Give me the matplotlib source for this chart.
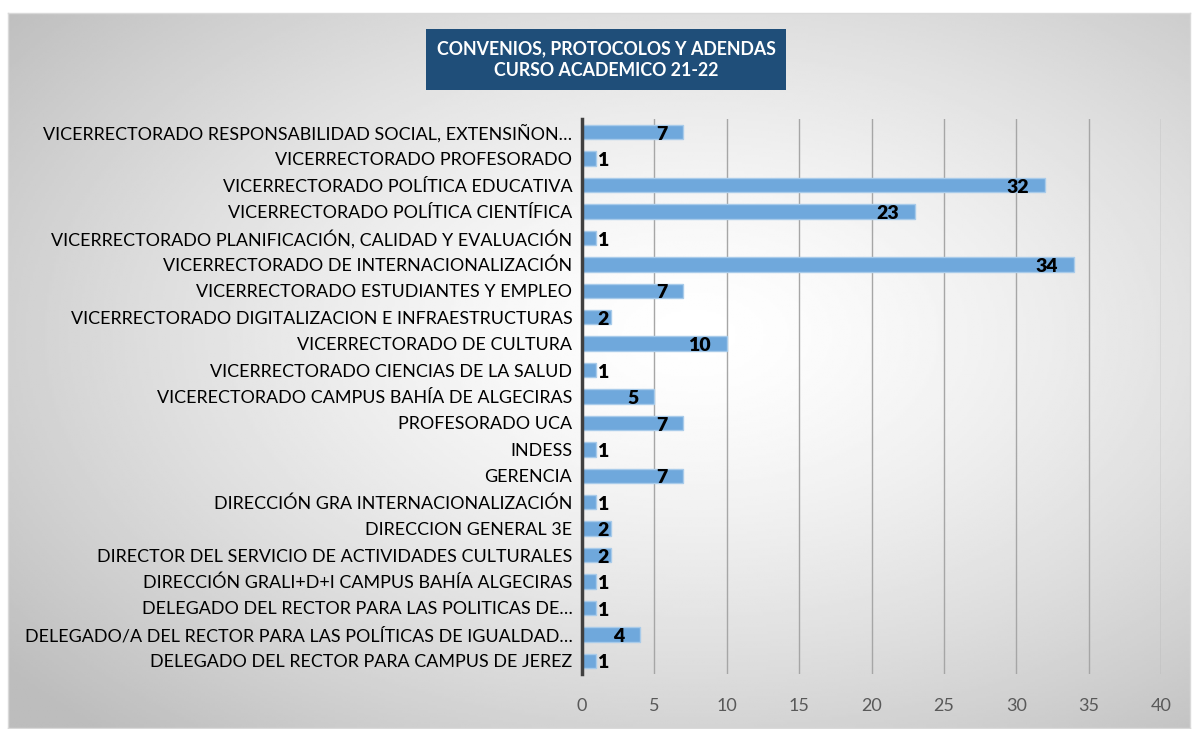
import numpy as np
import matplotlib
matplotlib.use('Agg')
import matplotlib.pyplot as plt
from matplotlib.transforms import offset_copy

categorias = [
    "VICERRECTORADO RESPONSABILIDAD SOCIAL, EXTENSIÑON…",
    "VICERRECTORADO PROFESORADO",
    "VICERRECTORADO POLÍTICA EDUCATIVA",
    "VICERRECTORADO POLÍTICA CIENTÍFICA",
    "VICERRECTORADO PLANIFICACIÓN, CALIDAD Y EVALUACIÓN",
    "VICERRECTORADO DE INTERNACIONALIZACIÓN",
    "VICERRECTORADO ESTUDIANTES Y EMPLEO",
    "VICERRECTORADO DIGITALIZACION E INFRAESTRUCTURAS",
    "VICERRECTORADO DE CULTURA",
    "VICERRECTORADO CIENCIAS DE LA SALUD",
    "VICERECTORADO CAMPUS BAHÍA DE ALGECIRAS",
    "PROFESORADO UCA",
    "INDESS",
    "GERENCIA",
    "DIRECCIÓN GRA INTERNACIONALIZACIÓN",
    "DIRECCION GENERAL 3E",
    "DIRECTOR DEL SERVICIO DE ACTIVIDADES CULTURALES",
    "DIRECCIÓN GRALI+D+I CAMPUS BAHÍA ALGECIRAS",
    "DELEGADO DEL RECTOR PARA LAS POLITICAS DE…",
    "DELEGADO/A DEL RECTOR PARA LAS POLÍTICAS DE IGUALDAD…",
    "DELEGADO DEL RECTOR PARA CAMPUS DE JEREZ",
]
valores = [7, 1, 32, 23, 1, 34, 7, 2, 10, 1, 5, 7, 1, 7, 1, 2, 2, 1, 1, 4, 1]
ticks_x = [0, 5, 10, 15, 20, 25, 30, 35, 40]
titulo = "CONVENIOS, PROTOCOLOS Y ADENDAS\nCURSO ACADEMICO 21-22"

plt.rcParams['font.family'] = ['Lato', 'DejaVu Sans']

W, H = 1193, 729
fig = plt.figure(figsize=(W / 100, H / 100), dpi=100)
fig.patch.set_facecolor('white')

# fondo con degradado radial
bg = fig.add_axes([8 / W, 1 - 728 / H, (1190 - 8) / W, (728 - 13) / H])
yy, xx = np.mgrid[0:1:300j, 0:1:500j]
r = np.sqrt(((xx - 0.58) / 0.75) ** 2 + ((yy - 0.45) / 0.75) ** 2)
r = np.clip(r, 0, 1)
grad = 1.0 - 0.26 * r ** 1.4
bg.imshow(grad, cmap='gray', vmin=0, vmax=1, aspect='auto', extent=[0, 1, 0, 1])
bg.set_xticks([])
bg.set_yticks([])
for s in bg.spines.values():
    s.set_color('#d9d9d9')
    s.set_linewidth(1)

ax = fig.add_axes([582 / W, 1 - 674 / H, (1161 - 582) / W, (674 - 119) / H])
ax.patch.set_alpha(0)

y = np.arange(len(categorias))[::-1]
ax.barh(y, valores, height=0.55, color='#6fa8dc', edgecolor='#a8cbea', linewidth=1, zorder=3)

ax.set_xlim(0, 40)
ax.set_ylim(-0.5, len(categorias) - 0.5)
ax.set_xticks(ticks_x)
ax.set_yticks(y)
ax.set_yticklabels(categorias, fontsize=12.9, color='#000000')
ax.tick_params(axis='y', length=0, pad=7)
ax.tick_params(axis='x', length=0, pad=17, labelsize=13, labelcolor='#595959')
ax.grid(axis='x', color='#a6a6a6', linewidth=1, zorder=1)
for s in ['top', 'right', 'bottom']:
    ax.spines[s].set_visible(False)
ax.spines['left'].set_color('#404040')
ax.spines['left'].set_linewidth(2.5)
ax.spines['left'].set_zorder(4)

# etiquetas de datos
for yi, v in zip(y, valores):
    if v <= 2:
        tr = offset_copy(ax.transData, fig=fig, x=11, y=-1.5, units='points')
        ax.text(0, yi, str(v), transform=tr, ha='left', va='center',
                fontsize=14, fontweight='heavy', color='black', zorder=5)
    else:
        tr = offset_copy(ax.transData, fig=fig, x=-11.5, y=-1.5, units='points')
        ax.text(v, yi, str(v), transform=tr, ha='right', va='center',
                fontsize=14, fontweight='heavy', color='black', zorder=5)

# titulo en caja
fig.text(606 / W, 1 - 59.5 / H, titulo, ha='center', va='center', color='white',
         fontsize=12.8, fontweight='bold', linespacing=1.35,
         bbox=dict(boxstyle='square,pad=0.6', facecolor='#1f4e79', edgecolor='none'))

fig.savefig('out.png', dpi=100)
